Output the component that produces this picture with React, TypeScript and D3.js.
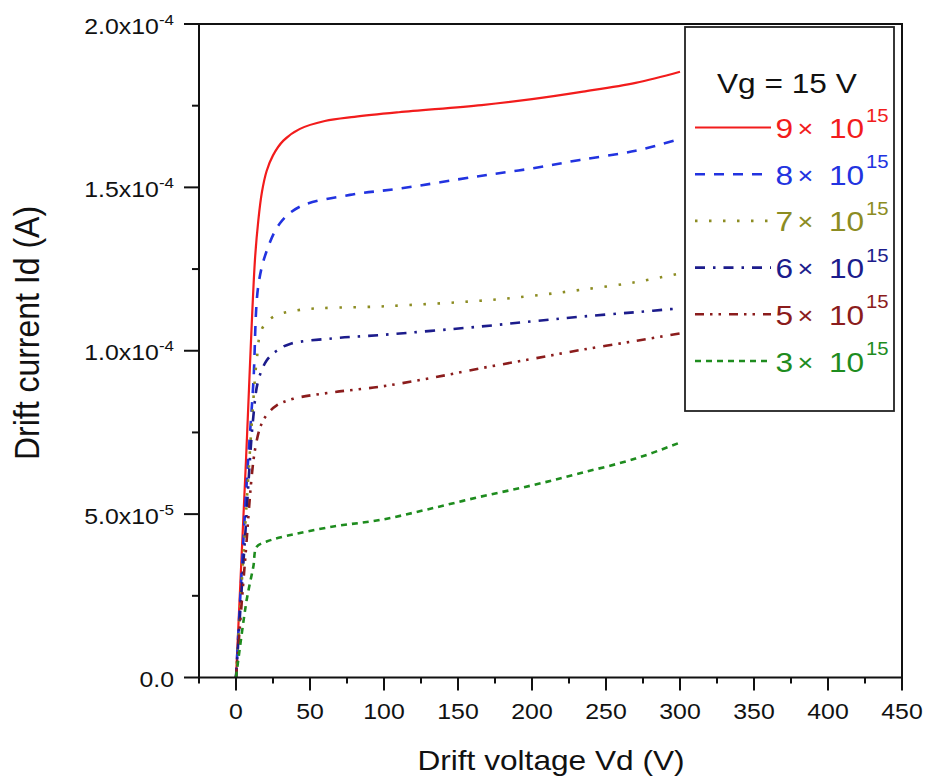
import React from "react";
import * as d3 from "d3";

// ---- data (Vd in volts, Id in units of 1e-4 A) ----
const vd9 = [0, 6.5, 12.8, 15.1, 17.5, 20.7, 25, 32, 43.2, 60, 80, 110, 166, 200, 234.5, 270, 300];
const id9 = [0, 0.64, 1.278, 1.4, 1.485, 1.55, 1.598, 1.643, 1.679, 1.703, 1.716, 1.73, 1.752, 1.77, 1.793, 1.82, 1.854];

const vd8 = [0, 7.2, 11.7, 15.1, 20.7, 29.7, 43.2, 77, 110, 165, 200, 232.4, 270, 300];
const id8 = [0, 0.594, 0.9, 1.2, 1.305, 1.39, 1.441, 1.477, 1.496, 1.535, 1.558, 1.584, 1.612, 1.648];

const vd7 = [0, 7, 11, 14, 17.4, 25.2, 43.2, 100, 164.9, 200, 232.4, 270, 300];
const id7 = [0, 0.52, 0.8, 0.972, 1.066, 1.104, 1.125, 1.136, 1.153, 1.168, 1.186, 1.21, 1.237];

const vd6 = [0, 6, 11.7, 15.1, 20.7, 27.5, 36.5, 65.7, 97.3, 164.9, 200, 232.4, 270, 300];
const id6 = [0, 0.42, 0.798, 0.91, 0.97, 1.0, 1.021, 1.038, 1.048, 1.074, 1.09, 1.104, 1.118, 1.13];

const vd5 = [0, 6, 12.8, 17.4, 21.8, 27.5, 38.7, 65.7, 97.3, 130, 164.9, 200, 232.4, 270, 300];
const id5 = [0, 0.35, 0.696, 0.778, 0.809, 0.833, 0.853, 0.873, 0.89, 0.915, 0.946, 0.975, 1.002, 1.03, 1.053];

const vd3 = [0, 7.2, 11.7, 14, 20.7, 32, 65.7, 97.3, 130, 164.9, 200, 232.4, 270, 300];
const id3 = [0, 0.237, 0.339, 0.4, 0.416, 0.431, 0.462, 0.482, 0.515, 0.553, 0.588, 0.625, 0.67, 0.719];

const seriesNames = ["9\u00d7", "8\u00d7", "7\u00d7", "6\u00d7", "5\u00d7", "3\u00d7"];
const seriesV = [vd9, vd8, vd7, vd6, vd5, vd3];
const seriesI = [id9, id8, id7, id6, id5, id3];

const xMajorTicks = [0, 50, 100, 150, 200, 250, 300, 350, 400, 450];
const xMinorTicks = [-25, 25, 75, 125, 175, 225, 275, 325, 375, 425];
const yMajorTicks = [0, 0.5, 1.0, 1.5, 2.0];
const yMinorTicks = [0.25, 0.75, 1.25, 1.75];
const yTickMain = ["0.0", "5.0x10", "1.0x10", "1.5x10", "2.0x10"];
const yTickExp = ["", "-5", "-4", "-4", "-4"];

const legendTitle = "Vg = 15 V";
const xTitle = "Drift voltage Vd (V)";
const yTitle = "Drift current Id (A)";

// ---- styles ----
const lineStyles = [
  { color: "#f21c1c", dash: "", width: 2.2 },
  { color: "#2233e0", dash: "10,9", width: 2.6 },
  { color: "#8c8c22", dash: "2.5,11.5", width: 2.6 },
  { color: "#1c1c8c", dash: "10,8,2.5,8", width: 2.6 },
  { color: "#8b1c1c", dash: "9,6,2.5,6,2.5,8", width: 2.6 },
  { color: "#1e8c1e", dash: "6,5", width: 2.6 },
];

const FONT = "'Liberation Sans', Arial, Helvetica, sans-serif";
const SX = 1.13;

export default function App() {
  const W = 928, H = 782;
  const x = d3.scaleLinear().domain([-25, 450]).range([199, 902]);
  const y = d3.scaleLinear().domain([0, 2.0]).range([677.5, 24]);

  const line = d3
    .line<[number, number]>()
    .x((d) => x(d[0]))
    .y((d) => y(d[1]))
    .curve(d3.curveCatmullRom.alpha(0.5));

  const plotL = x(-25), plotR = x(450), plotT = y(2.0), plotB = y(0);

  const legX0 = 685, legY0 = 27, legX1 = 894, legY1 = 411;
  const rowBase0 = 138, rowStep = 46.7;

  return (
    <svg width={W} height={H} style={{ position: "absolute", left: 0, top: 0, background: "#fff" }} fontFamily={FONT}>
      <rect x={0} y={0} width={W} height={H} fill="#fff" />
      <defs>
        <clipPath id="plotclip">
          <rect x={plotL} y={plotT} width={plotR - plotL} height={plotB - plotT} />
        </clipPath>
      </defs>

      {/* curves */}
      <g clipPath="url(#plotclip)">
        {seriesV.map((vs, i) => {
          const pts = vs.map((v, k) => [v, seriesI[i][k]] as [number, number]);
          const st = lineStyles[i];
          return (
            <path
              key={i}
              d={line(pts) || ""}
              fill="none"
              stroke={st.color}
              strokeWidth={st.width}
              strokeDasharray={st.dash || undefined}
              strokeLinejoin="round"
            />
          );
        })}
      </g>

      {/* frame */}
      <rect x={plotL} y={plotT} width={plotR - plotL} height={plotB - plotT} fill="none" stroke="#111" strokeWidth={2} />

      {/* x ticks */}
      {xMajorTicks.map((t) => (
        <line key={"xM" + t} x1={x(t)} x2={x(t)} y1={plotB} y2={plotB + 13} stroke="#111" strokeWidth={2} />
      ))}
      {xMinorTicks.map((t) => (
        <line key={"xm" + t} x1={x(t)} x2={x(t)} y1={plotB} y2={plotB + 6} stroke="#111" strokeWidth={2} />
      ))}
      {xMajorTicks.map((t) => (
        <text
          key={"xl" + t}
          transform={`translate(${x(t)},${plotB + 41.5}) scale(${SX},1)`}
          textAnchor="middle"
          fontSize={22}
          fill="#111"
        >
          {t}
        </text>
      ))}

      {/* y ticks */}
      {yMajorTicks.map((t) => (
        <line key={"yM" + t} x1={plotL - 15} x2={plotL} y1={y(t)} y2={y(t)} stroke="#111" strokeWidth={2} />
      ))}
      {yMinorTicks.map((t) => (
        <line key={"ym" + t} x1={plotL - 7} x2={plotL} y1={y(t)} y2={y(t)} stroke="#111" strokeWidth={2} />
      ))}
      {yMajorTicks.map((t, i) => (
        <text
          key={"yl" + t}
          transform={`translate(174,${y(t) + 9.5}) scale(${SX},1)`}
          textAnchor="end"
          fontSize={22}
          fill="#111"
        >
          {yTickMain[i]}
          {yTickExp[i] ? (
            <tspan fontSize={15} dy={-9}>
              {yTickExp[i]}
            </tspan>
          ) : null}
        </text>
      ))}

      {/* axis titles */}
      <text transform={`translate(551,770) scale(${SX},1)`} textAnchor="middle" fontSize={28} fill="#111">
        {xTitle}
      </text>
      <text transform={`translate(38.5,333) scale(1.1,1) rotate(-90)`} textAnchor="middle" fontSize={32} fill="#111">
        {yTitle}
      </text>

      {/* legend */}
      <rect x={legX0} y={legY0} width={legX1 - legX0} height={legY1 - legY0} fill="#fff" stroke="#222" strokeWidth={1.8} />
      <text transform={`translate(717,93) scale(${SX},1)`} fontSize={28} fill="#111">
        {legendTitle}
      </text>
      {seriesNames.map((nm, i) => {
        const st = lineStyles[i];
        const by = rowBase0 + i * rowStep;
        return (
          <g key={"lg" + i}>
            <line
              x1={695}
              x2={771}
              y1={by - 10.5}
              y2={by - 10.5}
              stroke={st.color}
              strokeWidth={st.width}
              strokeDasharray={st.dash || undefined}
            />
            <text transform={`translate(775.5,${by}) scale(${SX},1)`} fontSize={28} fill={st.color}>
              {nm.slice(0, 1)}
            </text>
            <text transform={`translate(797.5,${by - 1}) scale(${SX},1)`} fontSize={24} fill={st.color}>
              {nm.slice(1)}
            </text>
            <text transform={`translate(829,${by}) scale(${SX},1)`} fontSize={28} fill={st.color}>
              10
            </text>
            <text transform={`translate(866,${by - 16.5}) scale(${SX},1)`} fontSize={18} fill={st.color}>
              15
            </text>
          </g>
        );
      })}
    </svg>
  );
}
